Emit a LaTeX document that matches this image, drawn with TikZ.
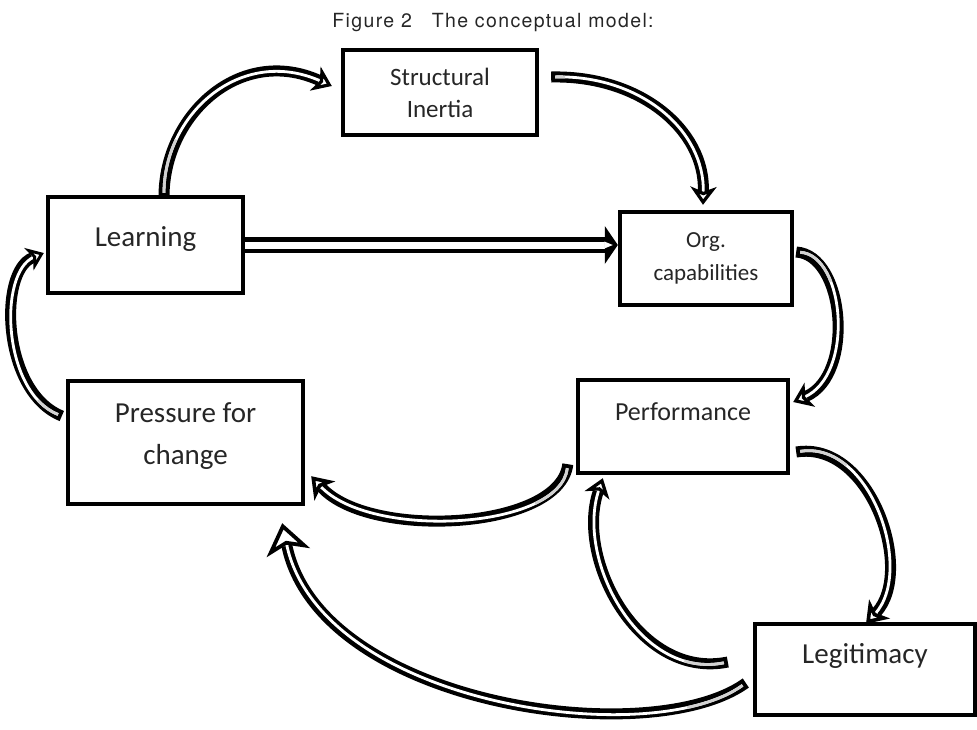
\documentclass[tikz,border=0pt]{standalone}
\usepackage{fontspec}
\setmainfont{Carlito}
\newfontfamily\titlefont[LetterSpace=7]{TeX Gyre Heros}
\usetikzlibrary{calc, arrows.meta}

\begin{document}
\begin{tikzpicture}[x=1pt, y=-1pt,
	box/.style={draw, line width=4.4pt, inner sep=0pt},
	boxtext/.style={text=black!85, align=center, inner sep=0pt},
	dblline/.style={line width=4.8pt, double=white, double distance=7pt},
	bendarrow/.style n args={4}{draw=white, line width=2.8pt, shorten <=4pt,
		-{Stealth[length=#2pt, width=#3pt, inset=#4pt, line width=3.8pt, color=black, fill=white]},
		preaction={draw=black, line width=11pt, arrows=-, shorten <=0pt, shorten >={#2pt-#4pt+1pt}},
		postaction={draw=gray!35, line width=2.8pt, arrows=-, shorten >={#2pt-#4pt+1pt}, dash pattern=on #1 off 3000pt}}]
	%\draw [thin, help lines] (0,0) grid[step=50] (977,729);
	\useasboundingbox (0,0) rectangle (977,729);

	\node[anchor=base, font=\titlefont\fontsize{19.5}{24}\selectfont, text=black!85] (title) at (493,27) {Figure 2\hspace{20pt}The conceptual model:};

	\node[box, minimum width=194pt, minimum height=85pt] (inertia) at (440,92.5) {};
	\node[box, minimum width=195pt, minimum height=96pt] (learning) at (145.5,245) {};
	\node[box, minimum width=172pt, minimum height=93pt] (orgcap) at (706,258.5) {};
	\node[box, minimum width=210pt, minimum height=93pt] (perform) at (683,426.5) {};
	\node[box, minimum width=235pt, minimum height=123pt] (pressure) at (185.5,442.5) {};
	\node[box, minimum width=220pt, minimum height=91pt] (legit) at (865,669.5) {};

	\node[boxtext, font=\fontsize{25}{32}\selectfont] (inertia-txt) at (inertia.center) {Structural\\Inertia};
	\node[boxtext, font=\fontsize{29}{36}\selectfont] (learning-txt) at ([yshift=6pt]learning.center) {Learning};
	\node[boxtext, font=\fontsize{23}{33}\selectfont] (orgcap-txt) at (orgcap.center) {Org.\\capabilities};
	\node[boxtext, font=\fontsize{26}{32}\selectfont] (perform-txt) at ([yshift=14.5pt]perform.center) {Performance};
	\node[boxtext, font=\fontsize{29}{42}\selectfont] (pressure-txt) at ([yshift=6pt]pressure.center) {Pressure for\\change};
	\node[boxtext, font=\fontsize{29}{36}\selectfont] (legit-txt) at ([yshift=13.5pt]legit.center) {Legitimacy};

	% straight arrow
	\coordinate (dtip) at (orgcap.west |- learning.east);
	\draw[dblline] (learning.east) -- ([xshift=-13pt]dtip);
	\fill[shift={(dtip)}] (-13,-19) -- (0,0) -- (-13,19) -- cycle;
	\fill[white, shift={(dtip)}] (-13.5,-3.5) -- (-5,0) -- (-13.5,3.5) -- cycle;

	% curved arrows
	\draw[bendarrow={55pt}{18}{26}{5}] ([xshift=18.5pt, yshift=-2pt]learning.north) .. controls (164,115) and (240,45) .. ([xshift=-9pt, yshift=6.5pt]inertia.west);
	\draw[bendarrow={10pt}{18}{26}{5}] ([xshift=12pt, yshift=15.5pt]inertia.east) .. controls (640,75) and (705,130) .. ([xshift=-3pt, yshift=5pt]orgcap.north);
	\draw[bendarrow={45pt}{18}{26}{5}] ([xshift=2pt, yshift=6.5pt]orgcap.east) .. controls (845,255) and (855,375) .. ([xshift=3pt, yshift=24.5pt]perform.east);
	\draw[bendarrow={50pt}{20}{28}{5.5}] ([xshift=-8pt, yshift=11pt]perform.south west) .. controls (560,530) and (370,540) .. ([xshift=6pt, yshift=30pt]pressure.south east);
	\draw[bendarrow={25pt}{16}{24}{4.5}] ([xshift=-4pt, yshift=26.5pt]pressure.west) .. controls (2,392) and (-2,272) .. ([xshift=-2pt, yshift=-8pt]learning.west);
	\draw[bendarrow={50pt}{20}{28}{5.5}] ([xshift=6pt, yshift=-25.5pt]perform.east) .. controls (870,440) and (915,570) .. ([xshift=1pt, yshift=-2pt]legit.north);
	\draw[bendarrow={40pt}{18}{26}{5}] ([xshift=-25pt, yshift=7.5pt]legit.west) .. controls (640,680) and (575,560) .. ([xshift=27pt, yshift=-3pt]perform.south west);
	\draw[bendarrow={60pt}{30}{44}{8}] ([xshift=-7pt, yshift=-13.5pt]legit.west) .. controls (650,752) and (320,705) .. ([xshift=-23pt, yshift=-17pt]pressure.south east);
\end{tikzpicture}
\end{document}
